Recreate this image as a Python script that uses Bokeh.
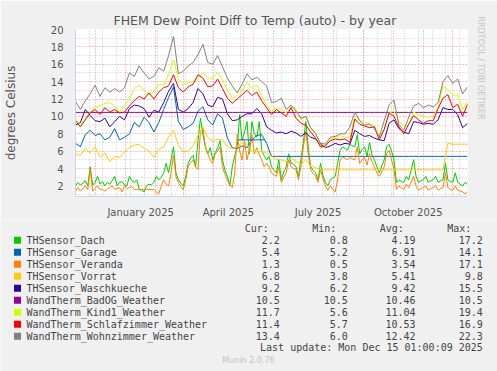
import numpy as np
import pandas as pd
from bokeh.plotting import figure
from bokeh.models import Range1d, FixedTicker, DatetimeTickFormatter, Title
from bokeh.layouts import column
from bokeh.embed import file_html
from bokeh.resources import INLINE
from bokeh.core.properties import value

# ---------------- data ----------------
start_date = "2024-11-11"
end_date = "2025-12-16"
dates = pd.date_range(start_date, periods=81, freq="5D")

# outdoor sensors are read at a finer (2.5 day) step because they are very spiky
dach = [2.0, 2.4, 2.1, 2.3, 2.6, 2.0, 4.2, 2.1, 2.4, 3.1,
        2.2, 2.5, 2.0, 2.4, 2.2, 2.6, 3.1, 2.0, 2.4, 2.5,
        2.1, 2.0, 3.1, 2.6, 2.4, 2.7, 1.6, 1.5, 1.3, 2.0,
        2.2, 2.1, 2.4, 3.1, 2.7, 3.0, 3.5, 4.6, 3.5, 5.0,
        6.5, 3.5, 2.7, 2.3, 2.0, 3.1, 4.6, 5.2, 5.5, 4.2,
        7.2, 9.8, 7.9, 6.5, 5.7, 6.4, 5.0, 5.8, 6.4, 7.2,
        5.0, 3.8, 3.1, 2.0, 4.2, 5.5, 6.4, 10.2, 7.2, 8.2,
        9.4, 5.7, 9.4, 8.0, 7.6, 9.4, 6.1, 5.5, 5.0, 5.4,
        4.2, 3.8, 3.5, 5.0, 2.7, 3.6, 4.2, 5.7, 4.6, 4.5,
        4.2, 3.1, 5.0, 7.0, 9.4, 6.4, 4.2, 3.8, 3.5, 2.7,
        4.6, 3.2, 2.4, 2.0, 2.7, 2.9, 3.1, 4.6, 6.1, 6.5,
        6.3, 6.1, 6.8, 6.6, 6.5, 7.9, 5.7, 6.2, 6.5, 5.4,
        7.0, 5.6, 5.0, 4.2, 3.5, 4.3, 5.0, 6.5, 6.8, 6.0,
        5.0, 2.4, 2.7, 2.5, 2.4, 3.1, 2.7, 3.8, 5.0, 3.1,
        2.4, 2.6, 2.7, 3.1, 2.4, 2.6, 2.7, 3.1, 2.4, 2.6,
        2.7, 4.6, 2.7, 2.5, 2.4, 3.5, 2.4, 2.2, 2.0, 2.4,
        2.2]
veranda = [1.4, 1.8, 1.4, 1.7, 2.0, 1.6, 3.9, 1.4, 1.7, 2.0,
           1.6, 1.6, 1.4, 1.7, 1.8, 2.0, 1.6, 1.7, 1.8, 1.3,
           2.0, 1.7, 1.8, 1.9, 1.6, 1.6, 1.6, 1.6, 1.6, 1.6,
           1.6, 1.6, 1.6, 1.3, 1.1, 2.0, 2.7, 2.2, 2.0, 3.5,
           5.5, 3.1, 2.4, 1.9, 1.6, 2.7, 4.2, 4.7, 5.0, 4.2,
           3.9, 8.3, 8.7, 6.5, 5.7, 5.0, 4.6, 5.7, 6.0, 6.5,
           4.2, 3.3, 2.7, 2.1, 1.8, 3.5, 7.9, 6.0, 5.0, 7.2,
           5.0, 6.2, 7.9, 5.7, 6.4, 5.6, 5.0, 4.2, 4.6, 4.2,
           3.5, 3.3, 3.1, 4.2, 2.4, 3.0, 3.5, 5.0, 4.2, 4.0,
           3.9, 2.7, 4.2, 6.5, 8.3, 5.7, 3.9, 3.4, 3.1, 2.4,
           3.9, 2.8, 2.0, 1.5, 2.0, 1.6, 1.3, 2.7, 5.0, 5.3,
           5.2, 5.0, 5.3, 5.1, 5.0, 6.5, 4.6, 5.0, 5.3, 4.4,
           5.7, 4.8, 4.2, 3.5, 3.1, 3.6, 4.2, 5.7, 6.1, 5.0,
           3.9, 1.6, 2.0, 1.8, 1.6, 2.2, 1.8, 2.4, 3.1, 2.0,
           1.5, 1.7, 1.8, 2.0, 1.5, 1.7, 1.8, 2.0, 1.5, 1.7,
           1.8, 3.5, 1.8, 1.6, 1.5, 2.0, 1.5, 1.4, 1.3, 1.1,
           1.3]
fine_dates = pd.date_range(start_date, periods=len(dach), freq="60h")
fine_dates_v = pd.date_range(start_date, periods=len(veranda), freq="60h")

garage = [6.9, 6.5, 7.9, 8.4, 7.8, 8.0, 7.3, 7.6, 8.6, 7.3,
          7.6, 8.0, 9.3, 8.8, 9.9, 9.3, 8.2, 9.3, 10.8, 12.2,
          13.4, 9.4, 8.5, 8.8, 9.2, 10.6, 11.1, 9.6, 9.0, 10.3,
          9.8, 7.5, 6.4, 6.3, 6.6, 6.4, 7.3, 7.8, 7.9, 6.9,
          5.4, 5.4, 5.4, 5.4, 5.4, 5.4, 5.4, 5.4, 5.4, 5.4,
          5.4, 5.4, 5.4, 5.4, 5.4, 5.4, 5.4, 5.4, 5.4, 5.4,
          5.4, 5.4, 5.4, 5.4, 5.4, 5.4, 5.4, 5.4, 5.4, 5.4,
          5.4, 5.4, 5.4, 5.4, 5.4, 5.4, 5.4, 5.4, 5.4, 5.4,
          5.4]
garage_hold_dates = ["2025-04-26", "2025-05-23"]
garage_hold = [7.3, 7.3]
vorrat = [5.7, 5.5, 6.3, 5.8, 6.5, 5.3, 5.8, 4.8, 5.4, 5.3,
          5.9, 6.4, 6.7, 6.8, 6.3, 6.0, 5.3, 6.2, 6.5, 7.6,
          8.4, 6.7, 5.9, 6.0, 6.6, 7.8, 8.8, 7.6, 7.1, 7.4,
          7.3, 6.5, 6.3, 6.6, 6.9, 6.8, 6.0, 5.9, 6.0, 5.8,
          5.4, 5.1, 5.0, 4.8, 5.3, 4.8, 4.5, 5.0, 4.3, 4.1,
          3.85, 3.85, 3.85, 3.85, 3.85, 3.85, 3.85, 3.85, 3.85, 3.85,
          3.85, 3.85, 3.85, 3.85, 3.85, 3.85, 3.85, 3.85, 3.85, 3.85,
          3.85, 3.85, 3.85, 3.85, 3.85, 3.85, 6.9, 6.8, 6.8, 6.8,
          6.8]
waschkueche = [9.0, 9.3, 10.8, 10.1, 9.5, 9.4, 9.8, 8.8, 9.4, 10.0,
               9.6, 10.9, 11.3, 11.2, 10.9, 9.9, 10.7, 10.5, 11.6, 12.9,
               13.8, 10.8, 10.5, 10.9, 11.6, 13.2, 12.6, 11.3, 11.1, 12.2,
               12.0, 10.3, 9.5, 9.6, 10.0, 10.3, 10.3, 10.9, 10.3, 8.8,
               8.4, 8.1, 8.2, 8.0, 8.3, 8.1, 7.7, 8.1, 7.6, 7.4,
               6.8, 6.4, 6.6, 6.9, 6.7, 6.9, 6.8, 8.4, 8.0, 7.7,
               7.8, 7.5, 7.3, 7.2, 9.2, 9.6, 8.6, 8.2, 8.0, 9.4,
               9.3, 9.1, 9.2, 9.1, 9.6, 11.0, 10.8, 10.8, 10.2, 8.7,
               9.2]
badog = [10.46] * 81
kind1 = [9.7, 9.0, 9.8, 10.5, 11.1, 11.2, 11.5, 11.6, 11.2, 10.5,
         11.3, 12.0, 13.2, 13.6, 13.0, 12.4, 12.9, 13.7, 13.6, 14.8,
         16.5, 14.3, 13.6, 13.9, 14.0, 14.4, 15.0, 14.4, 14.4, 15.1,
         14.2, 13.0, 12.1, 12.4, 13.0, 13.9, 13.2, 13.6, 12.4, 11.3,
         10.6, 11.0, 10.8, 10.4, 11.1, 10.9, 9.6, 10.0, 8.6, 8.2,
         6.4, 6.5, 7.4, 7.6, 7.8, 7.6, 7.6, 10.0, 9.6, 9.3,
         9.2, 8.9, 7.8, 8.5, 10.4, 10.6, 9.4, 8.9, 9.0, 10.5,
         10.2, 10.1, 9.9, 10.0, 11.0, 13.5, 13.1, 12.4, 12.5, 10.8,
         11.7]
schlafzimmer = [9.5, 8.8, 9.6, 10.4, 10.8, 10.2, 11.0, 10.5, 10.8, 10.4,
                10.5, 11.2, 11.8, 12.3, 12.0, 12.7, 12.0, 12.8, 13.3, 13.5,
                14.8, 13.3, 12.8, 13.4, 13.7, 14.8, 14.4, 13.4, 13.5, 14.3,
                13.2, 12.1, 11.5, 12.0, 12.5, 13.0, 12.4, 12.8, 11.8, 11.0,
                10.2, 10.8, 10.4, 10.0, 11.0, 9.8, 9.2, 9.0, 8.2, 7.5,
                6.5, 6.6, 7.2, 7.4, 7.3, 7.4, 7.0, 9.7, 9.1, 8.9,
                8.7, 8.8, 7.3, 8.5, 10.4, 10.0, 8.8, 8.0, 9.1, 10.1,
                9.6, 9.2, 9.5, 9.5, 10.9, 12.1, 12.5, 11.0, 11.4, 10.0,
                11.4]
wohnzimmer = [11.7, 10.8, 11.8, 12.6, 13.6, 12.3, 13.3, 12.8, 13.2, 12.8,
              13.3, 15.0, 14.6, 15.8, 15.0, 14.3, 14.6, 15.6, 15.2, 17.0,
              19.2, 14.9, 15.2, 15.8, 16.2, 17.1, 18.3, 16.2, 16.0, 17.0,
              15.7, 14.4, 13.5, 12.7, 13.7, 14.9, 14.2, 14.5, 14.0, 13.5,
              11.6, 11.7, 12.1, 10.8, 11.3, 10.6, 9.8, 10.0, 8.7, 8.0,
              6.9, 6.8, 7.6, 7.7, 8.0, 8.0, 8.8, 10.5, 9.5, 9.0,
              9.1, 8.6, 7.6, 9.5, 11.3, 11.9, 9.0, 8.4, 9.9, 11.2,
              11.5, 11.0, 11.3, 11.1, 11.6, 14.0, 14.7, 13.8, 14.3, 12.6,
              13.4]

names = ["THSensor_Dach", "THSensor_Garage", "THSensor_Veranda", "THSensor_Vorrat",
         "THSensor_Waschkueche", "WandTherm_BadOG_Weather", "WandTherm_Kind1_Weather",
         "WandTherm_Schlafzimmer_Weather", "WandTherm_Wohnzimmer_Weather"]
colors = ["#00CC00", "#0066B3", "#FF8000", "#FFCC00", "#330099",
          "#990099", "#CCFF00", "#FF0000", "#808080"]
series_x = [fine_dates, dates, fine_dates_v, dates, dates, dates, dates, dates, dates]
series = [dach, garage, veranda, vorrat, waschkueche, badog, kind1, schlafzimmer, wohnzimmer]
cur_vals = ["2.2", "5.4", "1.3", "6.8", "9.2", "10.5", "11.7", "11.4", "13.4"]
min_vals = ["0.8", "5.2", "0.5", "3.8", "6.2", "10.5", "5.6", "5.7", "6.0"]
avg_vals = ["4.19", "6.91", "3.54", "5.41", "9.42", "10.46", "11.04", "10.53", "12.42"]
max_vals = ["17.2", "14.1", "17.1", "9.8", "15.5", "10.5", "19.4", "16.9", "22.3"]
col_headers = ["Cur:", "Min:", "Avg:", "Max:"]
y_ticks = [2, 4, 6, 8, 10, 12, 14, 16, 18, 20]
y_minor = list(range(1, 21))
label_dates = ["2025-01-16 12:00", "2025-04-16 00:00", "2025-07-16 12:00", "2025-10-16 12:00"]
title_text = "FHEM Dew Point Diff to Temp (auto) - by year"
y_label = "degrees Celsius"
last_update = "Last update: Mon Dec 15 01:00:09 2025"
version_text = "Munin 2.0.76"
watermark = "RRDTOOL / TOBI OETIKER"


def ms(d):
    return pd.Timestamp(d).value / 1e6


BG = "#F0F0F0"
TXT = "#555555"
LEG = "#444444"
AXIS = "#C8D0F4"

# ---------------- main chart: frame 400 x 173 px at (67, 29) ----------------
p = figure(width=497, height=220, x_axis_type="datetime",
           x_range=Range1d(ms(start_date), ms(end_date)), y_range=Range1d(0.78, 20),
           output_backend="svg", toolbar_location=None,
           min_border_left=67, min_border_right=30, min_border_top=29, min_border_bottom=18,
           background_fill_color="white", border_fill_color=BG, outline_line_color=None)
p.frame_align = False

p.title.text = title_text
p.title.align = "left"
p.title.offset = 38
p.title.standoff = 3
p.title.text_font = "DejaVu Sans"
p.title.text_font_size = "12.5px"
p.title.text_font_style = "normal"
p.title.text_color = TXT

p.add_layout(Title(text=watermark, align="right", offset=77, standoff=12, vertical_align="top",
                   text_font="DejaVu Sans", text_font_size="8px", text_font_style="normal",
                   text_color="#C4C4C4"), "right")

month_starts = [ms(d) for d in pd.date_range("2024-12-01", "2025-12-01", freq="MS")]
biweekly = [ms(d) for d in pd.date_range("2024-11-25", end_date, freq="14D")]

p.xgrid.ticker = FixedTicker(ticks=month_starts, minor_ticks=biweekly)
p.ygrid.ticker = FixedTicker(ticks=y_ticks, minor_ticks=[v for v in y_minor if v % 2])
for g in (p.xgrid, p.ygrid):
    g.grid_line_color = "#E06060"
    g.grid_line_alpha = 0.7
    g.grid_line_dash = "1 2"
    g.minor_grid_line_color = "#BBBBBB"
    g.minor_grid_line_alpha = 0.8
    g.minor_grid_line_dash = "1 2"

p.xaxis.ticker = FixedTicker(ticks=[ms(d) for d in label_dates])
p.xaxis.formatter = DatetimeTickFormatter(days="%B %Y", months="%B %Y", years="%B %Y",
                                          hours="%B %Y", minutes="%B %Y")
p.yaxis.ticker = FixedTicker(ticks=y_ticks)
for ax in (p.xaxis, p.yaxis):
    ax.major_tick_line_color = None
    ax.minor_tick_line_color = None
    ax.axis_line_color = AXIS
    ax.major_label_text_color = TXT
    ax.major_label_text_font = "DejaVu Sans"
    ax.major_label_text_font_size = "10px"
p.xaxis.major_label_standoff = 4
p.yaxis.major_label_standoff = 6
p.yaxis.axis_label = y_label
p.yaxis.axis_label_text_font = "DejaVu Sans"
p.yaxis.axis_label_text_font_size = "12px"
p.yaxis.axis_label_text_font_style = "normal"
p.yaxis.axis_label_text_color = TXT
p.yaxis.axis_label_standoff = 30

for xs, vals, c in zip(series_x, series, colors):
    p.line(xs, vals, line_color=c, line_width=1)
p.line(pd.to_datetime(garage_hold_dates), garage_hold, line_color=colors[1], line_width=1)

# ---------------- legend block (pixel-mapped coordinates) ----------------
QH = 151
q = figure(width=497, height=QH, x_range=Range1d(0, 497), y_range=Range1d(QH, 0),
           x_axis_type=None, y_axis_type=None, output_backend="svg", toolbar_location=None,
           min_border=0, min_border_left=0, min_border_right=0, min_border_top=0,
           min_border_bottom=0, background_fill_color=BG, border_fill_color=BG,
           outline_line_color=None)
q.frame_align = False

mono = value("DejaVu Sans Mono")
row_y = [19.7 + 12 * i for i in range(len(names))]
q.rect(x=[17] * len(names), y=row_y, width=7, height=7, fill_color=colors, line_color=None)
q.text(x=[26] * len(names), y=row_y, text=names, text_font=mono, text_font_size="10px",
       text_color=LEG, text_baseline="middle", text_align="left")
for xr, vals in zip([279.3, 347.3, 415.0, 482.3], [cur_vals, min_vals, avg_vals, max_vals]):
    q.text(x=[xr] * len(vals), y=row_y, text=vals, text_font=mono, text_font_size="10px",
           text_color=LEG, text_baseline="middle", text_align="right")
q.text(x=[244.3, 311.7, 379.3, 446.7], y=[7.7] * 4, text=col_headers, text_font=mono,
       text_font_size="10px", text_color=LEG, text_baseline="middle", text_align="left")
q.text(x=[482.3], y=[127.3], text=[last_update], text_font=mono, text_font_size="10px",
       text_color=LEG, text_baseline="middle", text_align="right")
q.text(x=[248], y=[140.3], text=[version_text], text_font=value("DejaVu Sans"),
       text_font_size="8px", text_color="#C4C4C4", text_baseline="middle", text_align="center")

layout = column(p, q, spacing=0)
open("out.html", "w").write(file_html(layout, INLINE))
